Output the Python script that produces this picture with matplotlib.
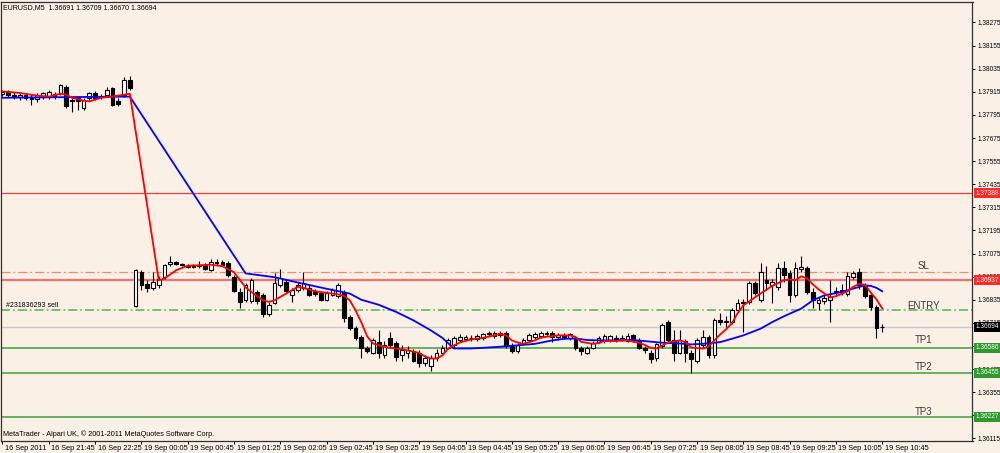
import matplotlib
matplotlib.use('Agg')
import matplotlib.pyplot as plt
import matplotlib.transforms as mtransforms
import numpy as np

plt.rcParams['font.family'] = ['Liberation Sans', 'DejaVu Sans']
plt.rcParams['lines.scale_dashes'] = False

# ---------------- data ----------------
symbol_title = "EURUSD,M5  1.36691 1.36709 1.36670 1.36694"
copyright_text = "MetaTrader - Alpari UK, \u00a9 2001-2011 MetaQuotes Software Corp."
order_label = "#231836293 sell"

opens = [
    1.37905, 1.37916, 1.37900, 1.37890, 1.37900, 1.37884, 1.37879, 1.37890, 1.37890, 1.37905,
    1.37910, 1.37942, 1.37874, 1.37884, 1.37832, 1.37884, 1.37910, 1.37890, 1.37900, 1.37937,
    1.37869, 1.37900, 1.37978, 1.36801, 1.36978, 1.36915, 1.36894, 1.36910, 1.36952, 1.37019,
    1.37030, 1.37019, 1.37004, 1.37009, 1.37009, 1.37014, 1.36988, 1.37030, 1.37030, 1.37025,
    1.36952, 1.36873, 1.36832, 1.36827, 1.36873, 1.36858, 1.36759, 1.36816, 1.36910, 1.36925,
    1.36858, 1.36884, 1.36894, 1.36894, 1.36879, 1.36868, 1.36832, 1.36858, 1.36853, 1.36873,
    1.36743, 1.36686, 1.36639, 1.36582, 1.36561, 1.36613, 1.36546, 1.36634, 1.36608, 1.36546,
    1.36556, 1.36567, 1.36556, 1.36509, 1.36493, 1.36530, 1.36556, 1.36587, 1.36598, 1.36624,
    1.36629, 1.36634, 1.36629, 1.36634, 1.36655, 1.36645, 1.36660, 1.36660, 1.36598, 1.36567,
    1.36608, 1.36624, 1.36639, 1.36645, 1.36660, 1.36660, 1.36639, 1.36650, 1.36634, 1.36634,
    1.36582, 1.36556, 1.36582, 1.36613, 1.36619, 1.36624, 1.36634, 1.36624, 1.36619, 1.36650,
    1.36624, 1.36582, 1.36561, 1.36530, 1.36593, 1.36717, 1.36624, 1.36561, 1.36619, 1.36556,
    1.36519, 1.36598, 1.36639, 1.36546, 1.36728, 1.36717, 1.36717, 1.36780, 1.36816, 1.36821,
    1.36920, 1.36832, 1.36936, 1.36910, 1.36899, 1.36999, 1.36972, 1.36858, 1.36993, 1.36999,
    1.36873, 1.36816, 1.36827, 1.36832, 1.36873, 1.36884, 1.36863, 1.36952, 1.36978, 1.36910,
    1.36858, 1.36795, 1.36691]

highs = [
    1.37926, 1.37926, 1.37916, 1.37910, 1.37910, 1.37905, 1.37910, 1.37916, 1.37926, 1.37916,
    1.37957, 1.37952, 1.37884, 1.37895, 1.37884, 1.37916, 1.37921, 1.37905, 1.37942, 1.37942,
    1.37884, 1.37994, 1.37999, 1.36993, 1.36988, 1.36936, 1.36978, 1.36957, 1.37019, 1.37061,
    1.37035, 1.37025, 1.37019, 1.37019, 1.37035, 1.37025, 1.37046, 1.37046, 1.37040, 1.37035,
    1.36962, 1.36894, 1.36920, 1.36946, 1.36884, 1.36868, 1.36821, 1.36972, 1.36993, 1.36941,
    1.36894, 1.36925, 1.36978, 1.36910, 1.36889, 1.36879, 1.36879, 1.36894, 1.36920, 1.36884,
    1.36754, 1.36697, 1.36650, 1.36593, 1.36634, 1.36676, 1.36619, 1.36665, 1.36619, 1.36598,
    1.36593, 1.36577, 1.36572, 1.36546, 1.36546, 1.36577, 1.36598, 1.36634, 1.36645, 1.36655,
    1.36650, 1.36650, 1.36655, 1.36660, 1.36671, 1.36671, 1.36671, 1.36671, 1.36608, 1.36608,
    1.36634, 1.36660, 1.36665, 1.36671, 1.36671, 1.36671, 1.36660, 1.36660, 1.36660, 1.36645,
    1.36593, 1.36593, 1.36619, 1.36645, 1.36655, 1.36650, 1.36650, 1.36650, 1.36660, 1.36655,
    1.36634, 1.36593, 1.36572, 1.36608, 1.36712, 1.36728, 1.36676, 1.36676, 1.36629, 1.36572,
    1.36634, 1.36676, 1.36650, 1.36738, 1.36764, 1.36749, 1.36790, 1.36837, 1.36837, 1.36931,
    1.36931, 1.37025, 1.37009, 1.36941, 1.37025, 1.37035, 1.36988, 1.37030, 1.37061, 1.37009,
    1.36894, 1.36847, 1.36858, 1.36936, 1.36899, 1.36915, 1.36978, 1.36983, 1.36999, 1.36920,
    1.36868, 1.36806, 1.36709]

lows = [
    1.37895, 1.37890, 1.37879, 1.37874, 1.37874, 1.37848, 1.37864, 1.37879, 1.37879, 1.37879,
    1.37900, 1.37832, 1.37812, 1.37822, 1.37822, 1.37874, 1.37874, 1.37879, 1.37895, 1.37843,
    1.37843, 1.37890, 1.37926, 1.36795, 1.36884, 1.36873, 1.36884, 1.36894, 1.36941, 1.37009,
    1.37014, 1.37009, 1.36999, 1.36999, 1.36999, 1.36988, 1.36983, 1.37014, 1.37009, 1.36952,
    1.36873, 1.36790, 1.36821, 1.36816, 1.36811, 1.36743, 1.36749, 1.36811, 1.36899, 1.36868,
    1.36821, 1.36873, 1.36884, 1.36853, 1.36853, 1.36827, 1.36827, 1.36853, 1.36842, 1.36717,
    1.36676, 1.36624, 1.36535, 1.36556, 1.36551, 1.36530, 1.36535, 1.36587, 1.36519, 1.36519,
    1.36535, 1.36514, 1.36488, 1.36493, 1.36467, 1.36519, 1.36546, 1.36577, 1.36587, 1.36613,
    1.36619, 1.36619, 1.36619, 1.36624, 1.36645, 1.36634, 1.36639, 1.36587, 1.36556, 1.36556,
    1.36598, 1.36613, 1.36629, 1.36634, 1.36650, 1.36613, 1.36624, 1.36629, 1.36624, 1.36572,
    1.36546, 1.36551, 1.36577, 1.36608, 1.36608, 1.36613, 1.36613, 1.36619, 1.36613, 1.36613,
    1.36577, 1.36561, 1.36509, 1.36519, 1.36582, 1.36613, 1.36519, 1.36551, 1.36514, 1.36457,
    1.36509, 1.36587, 1.36535, 1.36535, 1.36702, 1.36691, 1.36707, 1.36770, 1.36665, 1.36811,
    1.36858, 1.36821, 1.36884, 1.36816, 1.36884, 1.36925, 1.36821, 1.36847, 1.36978, 1.36863,
    1.36790, 1.36780, 1.36811, 1.36717, 1.36853, 1.36858, 1.36853, 1.36941, 1.36889, 1.36842,
    1.36780, 1.36634, 1.36670]

closes = [
    1.37916, 1.37900, 1.37890, 1.37900, 1.37884, 1.37879, 1.37900, 1.37910, 1.37916, 1.37890,
    1.37952, 1.37843, 1.37869, 1.37869, 1.37874, 1.37910, 1.37884, 1.37895, 1.37926, 1.37848,
    1.37853, 1.37978, 1.37937, 1.36988, 1.36910, 1.36894, 1.36925, 1.36941, 1.37014, 1.37030,
    1.37019, 1.37014, 1.37009, 1.37004, 1.37014, 1.36993, 1.37030, 1.37025, 1.37014, 1.36962,
    1.36879, 1.36821, 1.36910, 1.36936, 1.36827, 1.36759, 1.36806, 1.36920, 1.36946, 1.36879,
    1.36884, 1.36910, 1.36920, 1.36858, 1.36863, 1.36832, 1.36868, 1.36884, 1.36910, 1.36738,
    1.36686, 1.36634, 1.36582, 1.36567, 1.36624, 1.36556, 1.36598, 1.36598, 1.36540, 1.36572,
    1.36572, 1.36519, 1.36504, 1.36530, 1.36535, 1.36561, 1.36582, 1.36624, 1.36634, 1.36639,
    1.36639, 1.36636, 1.36645, 1.36655, 1.36660, 1.36660, 1.36650, 1.36598, 1.36567, 1.36598,
    1.36624, 1.36650, 1.36655, 1.36660, 1.36658, 1.36639, 1.36650, 1.36639, 1.36655, 1.36582,
    1.36567, 1.36582, 1.36608, 1.36634, 1.36645, 1.36645, 1.36632, 1.36634, 1.36645, 1.36619,
    1.36582, 1.36572, 1.36525, 1.36603, 1.36702, 1.36624, 1.36561, 1.36624, 1.36556, 1.36525,
    1.36624, 1.36639, 1.36546, 1.36728, 1.36717, 1.36723, 1.36780, 1.36816, 1.36821, 1.36920,
    1.36868, 1.36978, 1.36920, 1.36925, 1.36999, 1.36962, 1.36858, 1.36999, 1.37004, 1.36873,
    1.36832, 1.36832, 1.36842, 1.36847, 1.36879, 1.36882, 1.36957, 1.36972, 1.36910, 1.36853,
    1.36795, 1.36686, 1.36694]

red_ma_bars = [0, 3, 6, 8, 10, 11, 12, 14, 15, 17, 19, 21, 22, 27, 28, 30, 32, 34, 36, 38,
               40, 42, 44, 45, 46, 47, 48, 50, 51, 52, 54, 56, 58, 59, 60, 61, 62, 63, 64, 66,
               68, 70, 72, 73, 74, 75, 76, 77, 78, 79, 81, 83, 85, 86, 87, 88, 89, 90, 92, 93,
               96, 98, 99, 100, 102, 103, 104, 106, 108, 110, 111, 112, 113, 114, 115, 117, 118, 119, 121, 122,
               123, 124, 125, 126, 127, 128, 130, 131, 133, 135, 136, 137, 138, 139, 140, 141, 142, 143, 144, 146,
               147, 148, 149, 150, 151, 152]
red_ma_values = [1.37917, 1.37909, 1.37895, 1.37890, 1.37905, 1.37900, 1.37884, 1.37869, 1.37865, 1.37884,
                 1.37891, 1.37900, 1.37905, 1.36936, 1.36946, 1.36988, 1.37012, 1.37014, 1.37017, 1.37009,
                 1.36978, 1.36899, 1.36853, 1.36832, 1.36824, 1.36832, 1.36850, 1.36884, 1.36902, 1.36897,
                 1.36879, 1.36871, 1.36863, 1.36855, 1.36832, 1.36780, 1.36717, 1.36645, 1.36608, 1.36590,
                 1.36582, 1.36572, 1.36559, 1.36540, 1.36530, 1.36530, 1.36546, 1.36582, 1.36598, 1.36613,
                 1.36629, 1.36637, 1.36650, 1.36658, 1.36650, 1.36624, 1.36613, 1.36606, 1.36624, 1.36639,
                 1.36650, 1.36650, 1.36642, 1.36616, 1.36606, 1.36610, 1.36621, 1.36621, 1.36624, 1.36611,
                 1.36600, 1.36585, 1.36582, 1.36598, 1.36613, 1.36624, 1.36615, 1.36587, 1.36581, 1.36593,
                 1.36624, 1.36655, 1.36681, 1.36712, 1.36764, 1.36806, 1.36847, 1.36868, 1.36907, 1.36936,
                 1.36941, 1.36936, 1.36957, 1.36946, 1.36915, 1.36889, 1.36868, 1.36847, 1.36853, 1.36879,
                 1.36902, 1.36918, 1.36913, 1.36873, 1.36837, 1.36790]

blue_ma_bars = [0, 10, 22, 42, 47, 52, 56, 60, 62, 65, 68, 71, 74, 76, 78, 81, 85, 89, 92, 95,
                97, 99, 101, 103, 106, 109, 111, 114, 117, 119, 121, 124, 126, 128, 131, 133, 135, 138, 140, 142,
                145, 147, 149, 150, 151, 152]
blue_ma_values = [1.37884, 1.37887, 1.37890, 1.36972, 1.36952, 1.36918, 1.36892, 1.36867, 1.36835, 1.36809,
                  1.36772, 1.36728, 1.36676, 1.36637, 1.36582, 1.36582, 1.36589, 1.36598, 1.36606, 1.36624,
                  1.36632, 1.36634, 1.36626, 1.36624, 1.36624, 1.36626, 1.36620, 1.36612, 1.36608, 1.36603,
                  1.36606, 1.36615, 1.36632, 1.36650, 1.36685, 1.36719, 1.36749, 1.36789, 1.36832, 1.36858,
                  1.36875, 1.36893, 1.36910, 1.36907, 1.36897, 1.36879]

time_tick_bars = [0, 8, 16, 24, 32, 40, 48, 56, 64, 72, 80, 88, 96, 104, 112, 120, 128, 136, 144, 152]
time_tick_labels = ["16 Sep 2011", "16 Sep 21:45", "16 Sep 22:25", "19 Sep 00:05", "19 Sep 00:45",
                    "19 Sep 01:25", "19 Sep 02:05", "19 Sep 02:45", "19 Sep 03:25", "19 Sep 04:05",
                    "19 Sep 04:45", "19 Sep 05:25", "19 Sep 06:05", "19 Sep 06:45", "19 Sep 07:25",
                    "19 Sep 08:05", "19 Sep 08:45", "19 Sep 09:25", "19 Sep 10:05", "19 Sep 10:45"]

price_ticks = [1.36115, 1.36235, 1.36355, 1.36475, 1.36595, 1.36715, 1.36835, 1.36955, 1.37075, 1.37195,
               1.37315, 1.37435, 1.37555, 1.37675, 1.37795, 1.37915, 1.38035, 1.38155, 1.38275]

red_level_prices = [1.37388, 1.36937]
sl_price = 1.36980
entry_price = 1.36780
bid_price = 1.36694
tp_prices = [1.36586, 1.36455, 1.36227]

trade_text_names = ["SL", "ENTRY", "TP1", "TP2", "TP3"]
trade_text_prices = [1.37012, 1.36803, 1.36624, 1.36486, 1.36254]

box_prices = [1.37388, 1.36937, 1.36694, 1.36586, 1.36455, 1.36227]
box_kinds = ["red", "red", "bid", "green", "green", "green"]

# ---------------- drawing ----------------
BG = '#FAF0E6'
fig = plt.figure(figsize=(10, 4.53), dpi=100, facecolor=BG)
ax = fig.add_axes([0.0005, 1 - 440.5 / 453, 0.972, 439.0 / 453])
ax.set_facecolor(BG)

o = np.array(opens); h = np.array(highs); l = np.array(lows); c = np.array(closes)
x = np.arange(len(o))
up = c >= o

# horizontal levels
ax.axhline(red_level_prices[0], color='#F03C3C', lw=0.9, zorder=2)
ax.axhline(red_level_prices[1], color='#F07272', lw=1.6, zorder=2)
ax.axhline(sl_price, color='#F08A62', lw=0.9, ls=(0, (6.5, 2.2, 1.2, 2.2)), zorder=2)
ax.axhline(entry_price, color='#6CBB6C', lw=1.3, ls=(0, (6.5, 2.2, 1.2, 2.2)), zorder=2)
ax.axhline(bid_price, color='#C8C8C8', lw=1.0, zorder=2)
for p in tp_prices:
    ax.axhline(p, color='#3E9E3E', lw=1.1, zorder=2)

# candles
ax.vlines(x, l, h, color='black', lw=0.8, zorder=3)
bw = 0.64
ax.bar(x[up], (c - o)[up], bottom=o[up], width=bw, facecolor='white',
       edgecolor='black', linewidth=0.8, zorder=4)
ax.bar(x[~up], (o - c)[~up], bottom=c[~up], width=bw, facecolor='black',
       edgecolor='black', linewidth=0.8, zorder=4)

# moving averages
ax.plot(blue_ma_bars, blue_ma_values, color='#0000FF', lw=1.3, zorder=5, solid_joinstyle='round')
ax.plot(red_ma_bars, red_ma_values, color='#FF0000', lw=1.3, zorder=6, solid_joinstyle='round')

ax.set_xlim(-0.345, 167.6)
ax.set_ylim(1.36104, 1.38384)

# axes / ticks
for s in ax.spines.values():
    s.set_color('#303030')
    s.set_linewidth(0.9)

ax.yaxis.tick_right()
ax.set_yticks(price_ticks)
ax.set_yticklabels([f"{v:.5f}" for v in price_ticks])
ax.tick_params(axis='y', length=2.5, width=0.7, pad=1.0, labelsize=4.7, colors='black')

ax.set_xticks(time_tick_bars)
ax.set_xticklabels(time_tick_labels, ha='left')
ax.tick_params(axis='x', length=2.5, width=0.7, pad=0.8, labelsize=5.3, colors='black')
offset = mtransforms.ScaledTranslation(2.5 / 100, 0, fig.dpi_scale_trans)
for lab in ax.get_xticklabels():
    lab.set_transform(lab.get_transform() + offset)

# price boxes on the right scale
btrans = mtransforms.blended_transform_factory(ax.transAxes, ax.transData)
box_colors = {"red": "#FF2A2A", "bid": "#000000", "green": "#2E9A2E"}
for p, k in zip(box_prices, box_kinds):
    ax.text(1.0035, p, f"{p:.5f}", transform=btrans, color='white', fontsize=4.7,
            va='center', ha='left', clip_on=False, zorder=20,
            bbox=dict(boxstyle='square,pad=0.22', fc=box_colors[k], ec='none'))

# trade labels
for name, p in zip(trade_text_names, trade_text_prices):
    ax.text(159.2, p, name, color='#3A3A3A', fontsize=7, ha='center', va='center', zorder=7)

ax.text(0.6, entry_price + 0.00026, order_label, fontsize=5.0, color='black',
        ha='left', va='center', zorder=7)

fig.text(0.003, 1 - 8 / 453, symbol_title, fontsize=5.0, color='black', ha='left', va='center')
fig.text(0.003, 1 - 434 / 453, copyright_text, fontsize=5.2, color='black', ha='left', va='center')

fig.savefig('out.png', dpi=100, facecolor=BG)
